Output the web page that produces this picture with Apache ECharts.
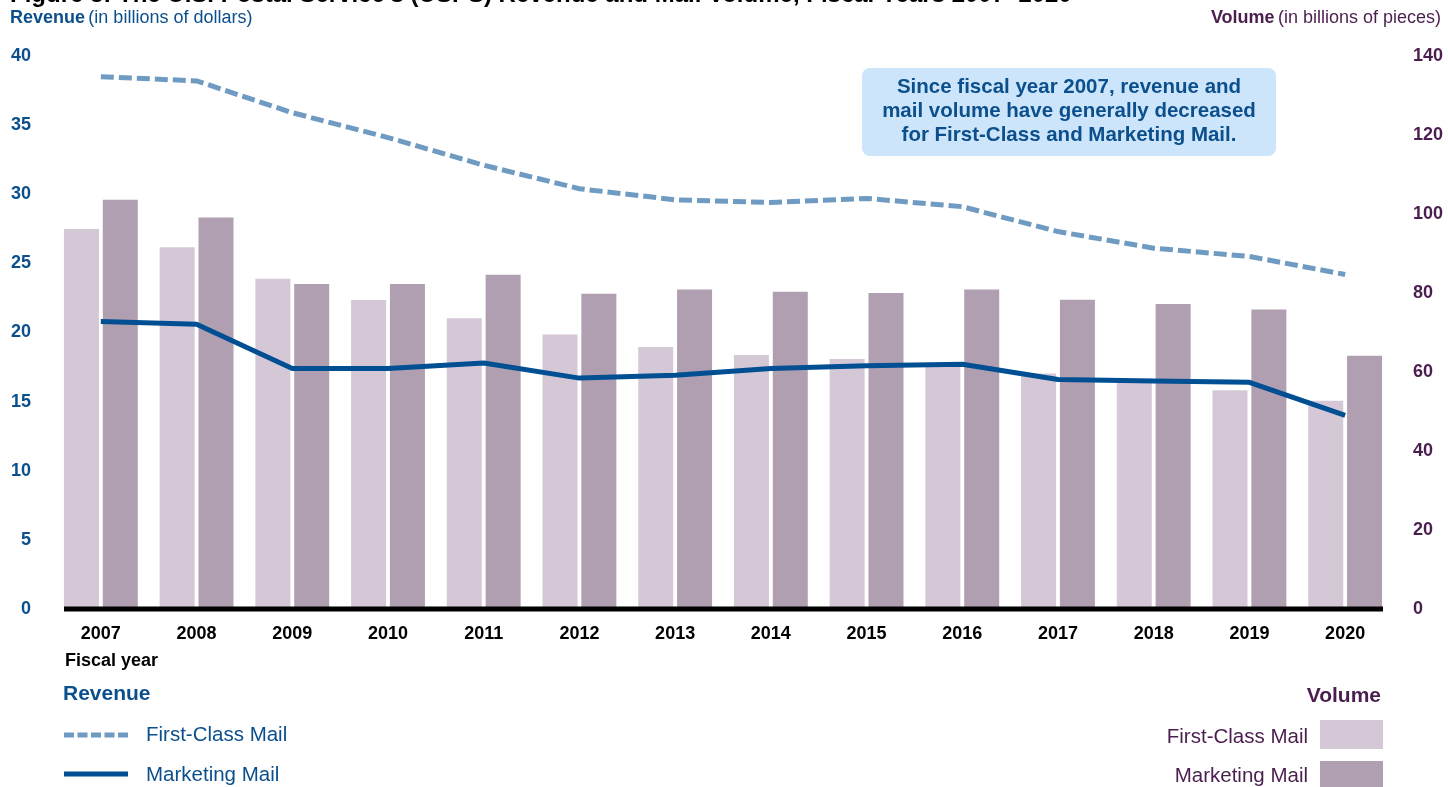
<!DOCTYPE html>
<html>
<head>
<meta charset="utf-8">
<script src="https://cdn.jsdelivr.net/npm/echarts@6/dist/echarts.min.js"></script>
<style>html,body{margin:0;padding:0;background:#fff}#c{width:1448px;height:787px}</style>
</head>
<body>
<div id="c"></div>
<script>
const years = ['2007','2008','2009','2010','2011','2012','2013','2014','2015','2016','2017','2018','2019','2020'];
const revenueFirstClass = [38.5,38.2,35.9,34.1,32.1,30.4,29.6,29.4,29.7,29.1,27.3,26.1,25.5,24.2];
const revenueMarketing = [20.8,20.6,17.4,17.4,17.8,16.7,16.9,17.4,17.6,17.7,16.6,16.5,16.4,14.0];
const volumeFirstClass = [96.2,91.6,83.6,78.2,73.6,69.5,66.3,64.3,63.3,62.0,59.6,58.3,55.4,52.7];
const volumeMarketing = [103.6,99.1,82.3,82.3,84.6,79.8,80.9,80.3,80.0,80.9,78.3,77.2,75.8,64.1];
const revenueTicks = [0,5,10,15,20,25,30,35,40];
const volumeTicks = [0,20,40,60,80,100,120,140];

const BLUE = '#0b4f8c';
const PURPLE = '#4a1e4f';
const FC_LINE = '#6f9bc3';
const MK_LINE = '#004f93';
const FC_BAR = '#d5c8d6';
const MK_BAR = '#b09eb1';
const FONT = '"Liberation Sans", Arial, sans-serif';

const chart = echarts.init(document.getElementById('c'));
chart.setOption({
  animation: false,
  textStyle: { fontFamily: FONT },
  grid: { left: 53, right: 55, top: 56, bottom: 178, containLabel: false },
  xAxis: {
    type: 'category', data: years,
    axisLine: { show: false },
    axisTick: { show: false },
    axisLabel: { color: '#000', fontWeight: 'bold', fontSize: 18, margin: 16, fontFamily: FONT }
  },
  yAxis: [
    { type: 'value', min: revenueTicks[0], max: revenueTicks[revenueTicks.length-1], interval: 5,
      splitLine: { show: false }, axisLine: { show: false }, axisTick: { show: false },
      axisLabel: { color: BLUE, fontWeight: 'bold', fontSize: 18, margin: 22, fontFamily: FONT } },
    { type: 'value', min: volumeTicks[0], max: volumeTicks[volumeTicks.length-1], interval: 20,
      position: 'right',
      splitLine: { show: false }, axisLine: { show: false }, axisTick: { show: false },
      axisLabel: { color: PURPLE, fontWeight: 'bold', fontSize: 18, margin: 20, fontFamily: FONT } }
  ],
  series: [
    { name: 'First-Class Mail volume', type: 'bar', yAxisIndex: 1, data: volumeFirstClass,
      barWidth: 35, barGap: '11%', itemStyle: { color: FC_BAR } },
    { name: 'Marketing Mail volume', type: 'bar', yAxisIndex: 1, data: volumeMarketing,
      barWidth: 35, barGap: '11%', itemStyle: { color: MK_BAR } },
    { name: 'First-Class Mail revenue', type: 'line', yAxisIndex: 0, data: revenueFirstClass,
      symbol: 'none', z: 5, lineStyle: { color: FC_LINE, width: 5, type: [13,5] }, itemStyle: { color: FC_LINE } },
    { name: 'Marketing Mail revenue', type: 'line', yAxisIndex: 0, data: revenueMarketing,
      symbol: 'none', z: 5, lineStyle: { color: MK_LINE, width: 5 }, itemStyle: { color: MK_LINE } }
  ],
  graphic: [
    { type: 'line', z: 10, shape: { x1: 64, y1: 609, x2: 1383, y2: 609 }, style: { stroke: '#000', lineWidth: 5 } },
    { type: 'text', left: 10, top: -17, style: { text: 'Figure 3: The U.S. Postal Service\u2019s (USPS) Revenue and Mail Volume, Fiscal Years 2007\u20132020', font: 'bold 24px ' + FONT, fill: '#000' } },
    { type: 'text', left: 10, top: 9, style: { rich: { b: { fontWeight: 'bold', fontSize: 18, fill: BLUE, fontFamily: FONT }, n: { fontSize: 18, fill: BLUE, fontFamily: FONT } }, text: '{b|Revenue} {n|(in billions of dollars)}' } },
    { type: 'text', right: 7, top: 9, style: { rich: { b: { fontWeight: 'bold', fontSize: 18, fill: PURPLE, fontFamily: FONT }, n: { fontSize: 18, fill: PURPLE, fontFamily: FONT } }, text: '{b|Volume} {n|(in billions of pieces)}' } },
    { type: 'rect', shape: { x: 862, y: 68, width: 414, height: 88, r: 8 }, style: { fill: '#cce5fb' } },
    { type: 'text', x: 1069, y: 111, style: { text: 'Since fiscal year 2007, revenue and\nmail volume have generally decreased\nfor First-Class and Marketing Mail.', font: 'bold 20.5px ' + FONT, fill: BLUE, align: 'center', verticalAlign: 'middle', lineHeight: 24 } },
    { type: 'text', left: 65, top: 652, style: { text: 'Fiscal year', font: 'bold 18px ' + FONT, fill: '#000' } },
    { type: 'text', left: 63, top: 684, style: { text: 'Revenue', font: 'bold 21px ' + FONT, fill: BLUE } },
    { type: 'line', shape: { x1: 64, y1: 735, x2: 128, y2: 735 }, style: { stroke: FC_LINE, lineWidth: 5, lineDash: [10,3.5] } },
    { type: 'text', x: 146, y: 735, style: { text: 'First-Class Mail', font: '20.5px ' + FONT, fill: BLUE, verticalAlign: 'middle' } },
    { type: 'line', shape: { x1: 64, y1: 774, x2: 128, y2: 774 }, style: { stroke: MK_LINE, lineWidth: 5 } },
    { type: 'text', x: 146, y: 775, style: { text: 'Marketing Mail', font: '20.5px ' + FONT, fill: BLUE, verticalAlign: 'middle' } },
    { type: 'text', x: 1381, y: 696, style: { text: 'Volume', font: 'bold 21px ' + FONT, fill: PURPLE, align: 'right', verticalAlign: 'middle' } },
    { type: 'rect', shape: { x: 1320, y: 720, width: 63, height: 29 }, style: { fill: FC_BAR } },
    { type: 'text', x: 1308, y: 737, style: { text: 'First-Class Mail', font: '20.5px ' + FONT, fill: PURPLE, align: 'right', verticalAlign: 'middle' } },
    { type: 'rect', shape: { x: 1320, y: 761, width: 63, height: 29 }, style: { fill: MK_BAR } },
    { type: 'text', x: 1308, y: 776, style: { text: 'Marketing Mail', font: '20.5px ' + FONT, fill: PURPLE, align: 'right', verticalAlign: 'middle' } }
  ]
});
</script>
</body>
</html>
